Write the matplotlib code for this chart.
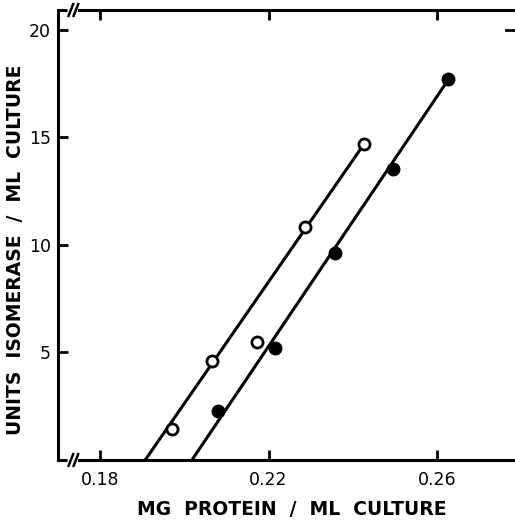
import matplotlib.pyplot as plt
import numpy as np

# open circles
open_x = [0.1970, 0.2065, 0.2172, 0.2287, 0.2427]
open_y = [1.46, 4.61, 5.48, 10.86, 14.71]
# filled circles
filled_x = [0.2079, 0.2215, 0.2358, 0.2495, 0.2627]
filled_y = [2.28, 5.23, 9.61, 13.54, 17.70]

# drawn lines (end points)
open_line_x = [0.1907, 0.2427]
open_line_y = [0.0, 14.71]
filled_line_x = [0.2018, 0.2627]
filled_line_y = [0.0, 17.70]

xticks = [0.18, 0.22, 0.26]
xticklabels = ['0.18', '0.22', '0.26']
yticks = [5, 10, 15, 20]

plt.rcParams['font.family'] = 'DejaVu Sans'
fig = plt.figure(figsize=(5.15, 5.23), dpi=100)
ax = fig.add_axes([58/515, 63/523, 457/515, 450/523])

lw = 2.2
ax.plot(open_line_x, open_line_y, color='black', lw=lw, zorder=2)
ax.plot(filled_line_x, filled_line_y, color='black', lw=lw, zorder=2)
ax.plot(open_x, open_y, 'o', ms=8, mfc='white', mec='black', mew=2, zorder=3)
ax.plot(filled_x, filled_y, 'o', ms=9, mfc='black', mec='black', zorder=3)

xmin, xmax = 0.1700, 0.2785
ax.set_xlim(xmin, xmax)
ax.set_ylim(0, 20.93)

ax.set_xticks(xticks)
ax.set_xticklabels(xticklabels)
ax.set_yticks(yticks)
ax.tick_params(direction='in', length=7, width=2, labelsize=12.5, top=True,
               pad=5)
ax.tick_params(axis='x', pad=8)

for s in ['left', 'top', 'bottom']:
    ax.spines[s].set_linewidth(lw)
ax.spines['right'].set_visible(False)

# axis break on the x axis (top and bottom)
brk = 0.1750
ax.spines['bottom'].set_bounds(brk, xmax)
ax.spines['top'].set_bounds(brk, xmax)
for yy in (0, 1):
    ax.plot([xmin, 0.1721], [yy, yy], transform=ax.get_xaxis_transform(),
            color='black', lw=lw, clip_on=False, solid_capstyle='butt')
    for dx in (0.0, 0.0012):
        x0 = 0.1725 + dx
        ax.plot([x0, x0 + 0.0011], [yy - 0.013, yy + 0.013],
                transform=ax.get_xaxis_transform(), color='black', lw=1.8,
                clip_on=False)

# single tick on the right edge at 20
ax.plot([xmax - 0.0022, xmax], [20, 20], color='black', lw=2, clip_on=False)

ax.set_xlabel('MG  PROTEIN  /  ML  CULTURE', fontsize=13.5, fontweight='bold',
              va='center')
ax.xaxis.set_label_coords(0.512, -0.111)
ax.set_ylabel('UNITS  ISOMERASE  /  ML  CULTURE', fontsize=13.5,
              fontweight='bold', va='center')
ax.yaxis.set_label_coords(-0.094, 0.466)

fig.savefig('out.png', dpi=100)
